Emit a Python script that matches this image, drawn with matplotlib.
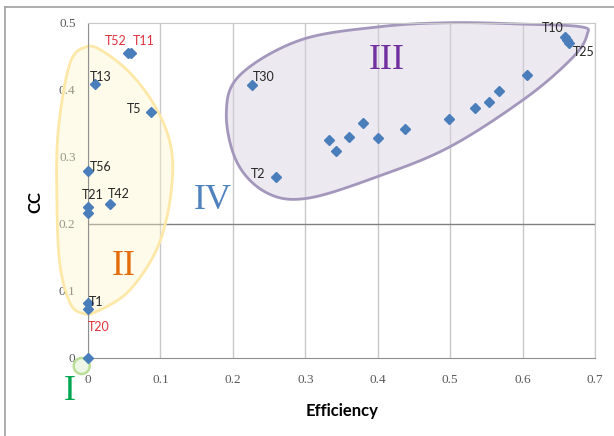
import numpy as np
import matplotlib.pyplot as plt
from matplotlib.patches import Polygon, Ellipse
from matplotlib.lines import Line2D

# data
efficiency = [0.055, 0.060, 0.010, 0.087, 0.0, 0.0, 0.0, 0.030, 0.0, 0.0, 0.0,
              0.227, 0.259, 0.333, 0.343, 0.361, 0.380, 0.400, 0.438, 0.498,
              0.534, 0.553, 0.568, 0.606, 0.658, 0.661, 0.664]
cc = [0.455, 0.455, 0.408, 0.367, 0.279, 0.225, 0.216, 0.229, 0.081, 0.073, 0.0,
      0.407, 0.270, 0.325, 0.309, 0.329, 0.351, 0.328, 0.341, 0.357,
      0.373, 0.381, 0.398, 0.422, 0.479, 0.474, 0.469]
names = ['T52', 'T11', 'T13', 'T5', 'T56', 'T21', '', 'T42', 'T1', 'T20', '',
         'T30', 'T2', '', '', '', '', '', '', '',
         '', '', '', '', 'T10', '', 'T25']
red_names = ['T52', 'T11', 'T20']

# label placement (pixel offsets from the point, alignment)
label_pos = {
    'T52': (-1, 12, 'right'), 'T11': (1, 12, 'left'), 'T13': (-5, 7, 'left'),
    'T5': (-10, 3, 'right'), 'T56': (2, 4, 'left'), 'T21': (-6, 12, 'left'),
    'T42': (-2, 10, 'left'), 'T1': (1, 1, 'left'), 'T20': (0, -18, 'left'),
    'T30': (0, 8, 'left'), 'T2': (-10, 3, 'right'), 'T10': (-1, 9, 'right'),
    'T25': (4, -9, 'left'),
}

# hand-drawn group outlines (data units)
group2_outline = [(-0.002, 0.464), (0.021, 0.457), (0.058, 0.425), (0.090, 0.380),
                  (0.111, 0.330), (0.117, 0.280), (0.109, 0.210), (0.090, 0.151),
                  (0.054, 0.097), (0.012, 0.069), (-0.007, 0.066), (-0.025, 0.082),
                  (-0.039, 0.141), (-0.043, 0.240), (-0.041, 0.340), (-0.025, 0.439)]
group3_outline = [(0.191, 0.365), (0.206, 0.291), (0.247, 0.246), (0.303, 0.238),
                  (0.399, 0.270), (0.500, 0.315), (0.606, 0.389), (0.670, 0.449),
                  (0.689, 0.482), (0.680, 0.494), (0.597, 0.498), (0.500, 0.500),
                  (0.403, 0.494), (0.293, 0.474), (0.210, 0.422)]


def closed_spline(pts, n=30):
    # periodic Catmull-Rom through the outline points
    p = np.asarray(pts)
    k = len(p)
    out = []
    for i in range(k):
        p0, p1, p2, p3 = p[i - 1], p[i], p[(i + 1) % k], p[(i + 2) % k]
        t = np.linspace(0, 1, n, endpoint=False)[:, None]
        out.append(0.5 * (2 * p1 + (-p0 + p2) * t + (2 * p0 - 5 * p1 + 4 * p2 - p3) * t ** 2
                          + (-p0 + 3 * p1 - 3 * p2 + p3) * t ** 3))
    return np.vstack(out)


fig = plt.figure(figsize=(6.14, 4.36), dpi=100)
ax = fig.add_axes([88 / 614, 1 - 357.7 / 436, 507 / 614, 335 / 436])

ax.set_xlim(0, 0.7)
ax.set_ylim(0, 0.5)
ax.set_xticks(np.arange(0, 0.71, 0.1))
ax.set_yticks(np.arange(0, 0.51, 0.1))
ax.set_xticklabels(['0', '0.1', '0.2', '0.3', '0.4', '0.5', '0.6', '0.7'])
ax.set_yticklabels(['0', '0.1', '0.2', '0.3', '0.4', '0.5'])
ax.tick_params(length=0, labelsize=9.5, labelcolor='#595959')
ax.tick_params(axis='x', pad=12)
ax.tick_params(axis='y', pad=9)
for lab in ax.get_xticklabels() + ax.get_yticklabels():
    lab.set_family('Liberation Serif')
ax.grid(True, axis='x', color='#c8c8c8', lw=1)
ax.axhline(0.2, color='#808080', lw=1, zorder=1)
for s in ['left', 'bottom']:
    ax.spines[s].set_color('#909090')
for s in ['top', 'right']:
    ax.spines[s].set_color('#c8c8c8')
ax.set_axisbelow(True)

# group shapes
ax.add_patch(Polygon(closed_spline(group2_outline), closed=True,
                     facecolor=(1.0, 0.96, 0.80, 0.4), edgecolor='#fde8a8',
                     lw=2, clip_on=False, zorder=2))
ax.add_patch(Polygon(closed_spline(group3_outline), closed=True,
                     facecolor=(0.84, 0.81, 0.88, 0.45), edgecolor='#a497bc',
                     lw=2, clip_on=False, zorder=2))
ax.add_patch(Ellipse((-0.0087, -0.0124), 0.022, 0.024, facecolor='#eef7e6',
                     edgecolor='#b9df98', lw=1.8, clip_on=False, zorder=2))

ax.plot(efficiency, cc, linestyle='none', marker='D', ms=5.5,
        color='#4a7ebb', clip_on=False, zorder=4)

for x, y, n in zip(efficiency, cc, names):
    if not n:
        continue
    dx, dy, ha = label_pos[n]
    ax.annotate(n, (x, y), xytext=(dx, dy), textcoords='offset pixels',
                ha=ha, va='center', fontsize=9, family='Lato',
                color='#e0303a' if n in red_names else '#262626',
                annotation_clip=False, zorder=5)

# roman numeral group tags
roman = dict(fontsize=26, family='Liberation Serif', ha='center', va='center', zorder=5)
ax.text(-0.025, -0.051, 'I', color='#00a650', clip_on=False, **roman)
ax.text(0.050, 0.136, 'II', color='#e46c0a', **roman)
ax.text(0.413, 0.444, 'III', color='#7030a0', **roman)
ax.text(0.172, 0.235, 'IV', color='#4f81bd', **roman)

fig.text(342 / 614, 1 - 411 / 436, 'Efficiency', ha='center', va='center',
         fontsize=12, fontweight='bold', family='Lato')
fig.text(35 / 614, 1 - 202 / 436, 'CC', ha='center', va='center', rotation=90,
         fontsize=12, fontweight='bold', family='Lato')

# outer frame of the original figure
fig.add_artist(Line2D([5 / 614, 5 / 614], [0, 1 - 7 / 436], color='#a0a0a0', lw=1.2))
fig.add_artist(Line2D([5 / 614, 1], [1 - 7 / 436, 1 - 7 / 436], color='#a0a0a0', lw=1.2))

fig.savefig('out.png', dpi=100)
